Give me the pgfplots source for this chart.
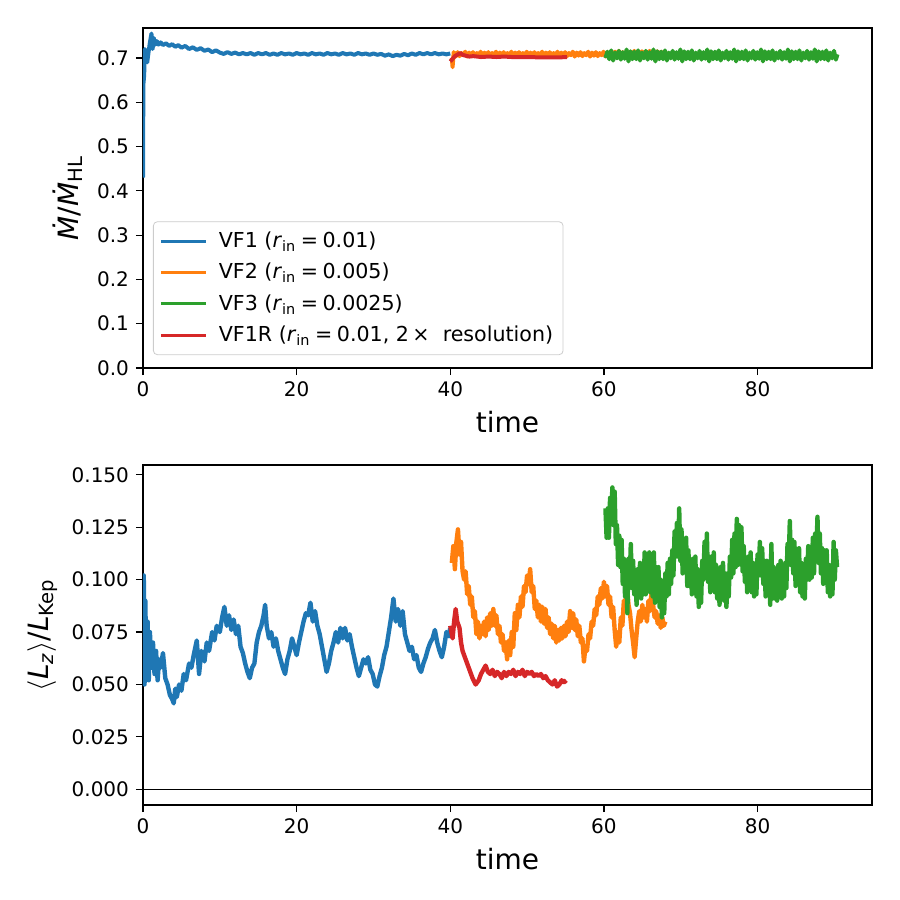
\documentclass[border=0pt]{standalone}
\usepackage{fontspec}
\setmainfont{DejaVu Sans}
\usepackage{pgfplots}
\pgfplotsset{compat=1.18}
\definecolor{c1}{HTML}{1F77B4}
\definecolor{c2}{HTML}{FF7F0E}
\definecolor{c3}{HTML}{2CA02C}
\definecolor{c4}{HTML}{D62728}
\pgfplotsset{
  myaxis/.style={
    scale only axis, width=364.5pt, height=170pt,
    xmin=0, xmax=94.9,
    xtick={0,20,40,60,80},
    axis line style={line width=0.8pt},
    tick style={line width=0.6pt, black},
    tick align=outside, major tick length=3.5pt,
    xtick pos=bottom, ytick pos=left,
    /pgf/number format/assume math mode=true,
    ticklabel style={font=\fontsize{10}{12}\selectfont},
    xlabel={time},
    xlabel style={font=\fontsize{14}{16}\selectfont, at={(axis description cs:0.5,0)}, anchor=base, yshift=-32pt},
    every axis plot/.append style={line width=2pt, line join=round},
    clip=true,
  }
}
\begin{document}
\begin{tikzpicture}
\begin{axis}[myaxis, at={(0,0)}, anchor=south west,
  ymin=0, ymax=0.7675,
  ytick={0,0.1,0.2,0.3,0.4,0.5,0.6,0.7},
  yticklabel style={/pgf/number format/.cd, fixed, fixed zerofill, precision=1},
  ylabel={\textit{Ṁ}/\textit{Ṁ}\textsubscript{HL}},
  ylabel style={font=\fontsize{14}{16}\selectfont, at={(axis description cs:-0.082,0.5)}, anchor=south, rotate=0, inner sep=0pt},
  legend style={at={(0.0137,0.038)}, anchor=south west, draw=black!20, rounded corners=2pt, fill=white, fill opacity=0.8, text opacity=1, font=\fontsize{10.3}{12}\selectfont, inner xsep=3pt, inner ysep=3pt, row sep=2.4pt},
  legend cell align=left,
  legend image code/.code={\draw[#1, line width=1.5pt] (0pt,0pt) -- (22.5pt,0pt); \path[draw=none, fill=none] (0pt,0pt) -- (27pt,0pt);},
]
\addplot[c1] coordinates {(0,0.43) (0.05,0.64) (0.15,0.66) (0.25,0.72) (0.4,0.70) (0.55,0.69) (0.7,0.71) (0.9,0.735) (1.1,0.755) (1.25,0.72) (1.4,0.745) (1.6,0.73) (1.8,0.738) (2.0,0.73) (2.3,0.735) (2.6,0.729) (3,0.733) (3.4,0.727) (3.8,0.731) (4.2,0.725) (4.6,0.729) (5,0.723) (5.5,0.727) (6,0.72) (6.5,0.724) (7,0.718) (7.5,0.722) (8,0.716) (8.5,0.719) (9,0.713) (9.5,0.717)
(10,0.712) (10.5,0.709) (11,0.713) (11.5,0.709) (12,0.712) (12.5,0.708) (13,0.711) (13.5,0.708) (14,0.711) (14.5,0.707) (15,0.711) (15.5,0.708) (16,0.711) (16.5,0.707) (17,0.710) (17.5,0.707) (18,0.711) (18.5,0.708) (19,0.710) (19.5,0.707) (20,0.711) (20.5,0.708) (21,0.710) (21.5,0.707) (22,0.711) (22.5,0.708) (23,0.710) (23.5,0.707) (24,0.711) (24.5,0.708) (25,0.710) (25.5,0.707) (26,0.711) (26.5,0.708) (27,0.710) (27.5,0.707) (28,0.711) (28.5,0.708) (29,0.710) (29.5,0.707) (30,0.710) (30.5,0.707) (31,0.709) (31.5,0.705) (32,0.708) (32.5,0.704) (33,0.707) (33.5,0.705) (34,0.709) (34.5,0.706) (35,0.710) (35.5,0.707) (36,0.711) (36.5,0.708) (37,0.711) (37.5,0.708) (38,0.711) (38.5,0.708) (39,0.710) (39.5,0.708) (40,0.710)};
\addlegendentry{VF1 (\textit{r}\textsubscript{in}\:=\:0.01)}
\addplot[c2] coordinates {(40.2,0.700) (40.3,0.679) (40.45,0.713) (40.7,0.703) (40.95,0.713) (41.2,0.704) (41.45,0.711) (41.7,0.706) (41.95,0.714) (42.2,0.703) (42.45,0.712) (42.7,0.705) (42.95,0.713) (43.2,0.704) (43.45,0.711) (43.7,0.706) (43.95,0.714) (44.2,0.703) (44.45,0.712) (44.7,0.705) (44.95,0.713) (45.2,0.704) (45.45,0.711) (45.7,0.706) (45.95,0.714) (46.2,0.703) (46.45,0.712) (46.7,0.705) (46.95,0.713) (47.2,0.704) (47.45,0.711) (47.7,0.706) (47.95,0.714) (48.2,0.703) (48.45,0.712) (48.7,0.705) (48.95,0.713) (49.2,0.704) (49.45,0.711) (49.7,0.706) (49.95,0.714) (50.2,0.703) (50.45,0.712) (50.7,0.705) (50.95,0.713) (51.2,0.704) (51.45,0.711) (51.7,0.706) (51.95,0.714) (52.2,0.703) (52.45,0.712) (52.7,0.705) (52.95,0.713) (53.2,0.704) (53.45,0.711) (53.7,0.706) (53.95,0.714) (54.2,0.703) (54.45,0.712) (54.7,0.705) (54.95,0.713) (55.2,0.704) (55.45,0.711) (55.7,0.706) (55.95,0.714) (56.2,0.703) (56.45,0.712) (56.7,0.705) (56.95,0.713) (57.2,0.704) (57.45,0.711) (57.7,0.706) (57.95,0.714) (58.2,0.703) (58.45,0.712) (58.7,0.705) (58.95,0.713) (59.2,0.704) (59.45,0.711) (59.7,0.706) (59.95,0.714) (60.2,0.703) (60.45,0.713) (60.7,0.706) (60.95,0.715) (61.2,0.705) (61.45,0.714) (61.7,0.706) (61.95,0.716) (62.2,0.705) (62.45,0.713) (62.7,0.704) (62.95,0.715) (63.2,0.706) (63.45,0.714) (63.7,0.703) (63.95,0.716) (64.2,0.705) (64.45,0.713) (64.7,0.706) (64.95,0.715) (65.2,0.704) (65.45,0.714) (65.7,0.705) (65.95,0.716) (66.2,0.706) (66.45,0.713) (66.7,0.704) (66.95,0.715) (67.2,0.705) (67.45,0.714) (67.7,0.706) (67.95,0.713) (68.2,0.709)};
\addlegendentry{VF2 (\textit{r}\textsubscript{in}\:=\:0.005)}
\addplot[c3] coordinates {(60.2,0.700) (60.45,0.714) (60.7,0.697) (60.95,0.717) (61.2,0.694) (61.45,0.712) (61.7,0.699) (61.95,0.716) (62.2,0.696) (62.45,0.713) (62.7,0.698) (62.95,0.719) (63.2,0.692) (63.45,0.715) (63.7,0.697) (63.95,0.714) (64.2,0.697) (64.45,0.717) (64.7,0.694) (64.95,0.712) (65.2,0.699) (65.45,0.716) (65.7,0.696) (65.95,0.713) (66.2,0.698) (66.45,0.719) (66.7,0.692) (66.95,0.715) (67.2,0.697) (67.45,0.714) (67.7,0.697) (67.95,0.717) (68.2,0.694) (68.45,0.712) (68.7,0.699) (68.95,0.716) (69.2,0.696) (69.45,0.713) (69.7,0.698) (69.95,0.719) (70.2,0.692) (70.45,0.715) (70.7,0.697) (70.95,0.714) (71.2,0.697) (71.45,0.717) (71.7,0.694) (71.95,0.712) (72.2,0.699) (72.45,0.716) (72.7,0.696) (72.95,0.713) (73.2,0.698) (73.45,0.719) (73.7,0.692) (73.95,0.715) (74.2,0.697) (74.45,0.714) (74.7,0.697) (74.95,0.717) (75.2,0.694) (75.45,0.712) (75.7,0.699) (75.95,0.716) (76.2,0.696) (76.45,0.713) (76.7,0.698) (76.95,0.719) (77.2,0.692) (77.45,0.715) (77.7,0.697) (77.95,0.714) (78.2,0.697) (78.45,0.717) (78.7,0.694) (78.95,0.712) (79.2,0.699) (79.45,0.716) (79.7,0.696) (79.95,0.713) (80.2,0.698) (80.45,0.719) (80.7,0.692) (80.95,0.715) (81.2,0.697) (81.45,0.714) (81.7,0.697) (81.95,0.717) (82.2,0.694) (82.45,0.712) (82.7,0.699) (82.95,0.716) (83.2,0.696) (83.45,0.713) (83.7,0.698) (83.95,0.719) (84.2,0.692) (84.45,0.715) (84.7,0.697) (84.95,0.714) (85.2,0.697) (85.45,0.717) (85.7,0.694) (85.95,0.712) (86.2,0.699) (86.45,0.716) (86.7,0.696) (86.95,0.713) (87.2,0.698) (87.45,0.719) (87.7,0.692) (87.95,0.715) (88.2,0.697) (88.45,0.714) (88.7,0.697) (88.95,0.717) (89.2,0.694) (89.45,0.712) (89.7,0.699) (89.95,0.716) (90.2,0.696) (90.4,0.708)};
\addlegendentry{VF3 (\textit{r}\textsubscript{in}\:=\:0.0025)}
\addplot[c4] coordinates {(40.0,0.692) (40.3,0.698) (40.6,0.704) (41,0.708) (41.3,0.711) (41.6,0.707) (42,0.705) (42.5,0.703) (43,0.704) (44,0.702) (45,0.703) (46,0.702) (47,0.703) (48,0.702) (50,0.702) (52,0.701) (54,0.701) (55.2,0.702)};
\addlegendentry{VF1R (\textit{r}\textsubscript{in}\:=\:0.01, 2\,×\ \ resolution)}
\end{axis}

\begin{axis}[myaxis, at={(0,-218.5pt)}, anchor=south west,
  ymin=-0.0075, ymax=0.1547,
  ytick={0,0.025,0.05,0.075,0.1,0.125,0.15},
  yticklabel style={/pgf/number format/.cd, fixed, fixed zerofill, precision=3},
  ylabel={$\langle$\textit{L}\textsubscript{\textit{z}}$\rangle$/\textit{L}\textsubscript{Kep}},
  ylabel style={font=\fontsize{14}{16}\selectfont, at={(axis description cs:-0.117,0.5)}, anchor=south, rotate=0, inner sep=0pt},
  every axis plot/.append style={line width=2.2pt},
]
\addplot[black, line width=0.5pt, forget plot] coordinates {(0,0) (94.9,0)};
\addplot[c1] coordinates {(0,0.06) (0.1,0.102) (0.2,0.05) (0.3,0.09) (0.45,0.055) (0.6,0.08) (0.75,0.052) (0.9,0.075) (1.1,0.058) (1.3,0.07) (1.5,0.055) (1.7,0.066) (1.9,0.052) (2.1,0.062) (2.3,0.058) (2.6,0.065) (2.9,0.053) (3.2,0.05) (3.5,0.045) (3.8,0.043) (4.0,0.041) (4.2,0.048) (4.4,0.044) (4.7,0.05) (5,0.047) (5.3,0.055) (5.6,0.052) (6,0.06) (6.3,0.058) (6.6,0.064) (7.0,0.071) (7.3,0.055) (7.6,0.066) (8,0.061) (8.3,0.07) (8.6,0.066) (9,0.075) (9.3,0.071) (9.6,0.078) (10,0.075) (10.3,0.082) (10.6,0.087) (10.9,0.078) (11.2,0.083) (11.5,0.076) (11.8,0.081) (12.1,0.074) (12.4,0.078) (12.7,0.068) (13,0.065) (13.3,0.06) (13.6,0.056) (13.9,0.053) (14.2,0.058) (14.5,0.06) (14.8,0.07) (15.1,0.075) (15.4,0.078) (15.7,0.083) (15.9,0.088) (16.1,0.078) (16.4,0.072) (16.7,0.075) (17,0.068) (17.3,0.072) (17.6,0.066) (17.9,0.062) (18.2,0.058) (18.5,0.055) (18.8,0.062) (19.1,0.066) (19.4,0.072) (19.7,0.068) (20,0.064) (20.3,0.07) (20.6,0.075) (20.9,0.08) (21.2,0.084) (21.5,0.083) (21.8,0.089) (22.1,0.08) (22.4,0.085) (22.7,0.078) (23,0.074) (23.3,0.068) (23.6,0.062) (23.9,0.056) (24.2,0.06) (24.5,0.066) (24.8,0.07) (25.1,0.075) (25.4,0.07) (25.7,0.077) (26,0.072) (26.3,0.077) (26.6,0.071) (26.9,0.074) (27.2,0.068) (27.5,0.063) (27.8,0.058) (28.1,0.054) (28.4,0.058) (28.7,0.062) (29,0.06) (29.3,0.063) (29.6,0.057) (29.9,0.055) (30.2,0.05) (30.5,0.049) (30.8,0.054) (31.1,0.058) (31.4,0.064) (31.7,0.068) (32,0.075) (32.3,0.082) (32.6,0.091) (32.9,0.08) (33.2,0.086) (33.5,0.078) (33.8,0.085) (34.1,0.074) (34.4,0.07) (34.7,0.066) (35,0.068) (35.3,0.062) (35.6,0.064) (35.9,0.058) (36.2,0.056) (36.5,0.06) (36.8,0.063) (37.1,0.067) (37.4,0.07) (37.7,0.072) (38,0.076) (38.3,0.07) (38.6,0.066) (38.9,0.063) (39.2,0.068) (39.5,0.075) (39.8,0.073) (40,0.077)};
\addplot[c2] coordinates {(40.2,0.108) (40.4,0.116) (40.6,0.105) (40.8,0.118) (41.0,0.124) (41.2,0.112) (41.4,0.118) (41.6,0.104) (41.8,0.1) (42.0,0.104) (42.2,0.093) (42.4,0.097) (42.6,0.088) (42.8,0.092) (43.0,0.082) (43.2,0.085) (43.4,0.074) (43.6,0.08) (43.8,0.072) (44,0.078) (44.2,0.074) (44.4,0.08) (44.6,0.073) (44.8,0.082) (45,0.076) (45.2,0.084) (45.4,0.078) (45.6,0.086) (45.8,0.078) (46,0.083) (46.2,0.074) (46.4,0.078) (46.6,0.07) (46.8,0.074) (47,0.066) (47.2,0.07) (47.4,0.062) (47.6,0.071) (47.8,0.064) (48,0.075) (48.2,0.068) (48.4,0.084) (48.6,0.076) (48.8,0.088) (49,0.082) (49.2,0.092) (49.4,0.087) (49.6,0.097) (49.8,0.094) (50,0.102) (50.2,0.098) (50.4,0.105) (50.6,0.094) (50.8,0.097) (51,0.086) (51.2,0.09) (51.4,0.082) (51.6,0.088) (51.8,0.08) (52,0.087) (52.2,0.079) (52.4,0.086) (52.6,0.077) (52.8,0.082) (53,0.074) (53.2,0.079) (53.4,0.072) (53.6,0.078) (53.8,0.07) (54,0.076) (54.2,0.071) (54.4,0.077) (54.6,0.072) (54.8,0.078) (55,0.073) (55.2,0.08) (55.4,0.075) (55.6,0.085) (55.8,0.077) (56,0.084) (56.2,0.076) (56.4,0.081) (56.6,0.073) (56.8,0.078) (57,0.07) (57.2,0.072) (57.4,0.061) (57.6,0.068) (57.8,0.066) (58,0.074) (58.2,0.072) (58.4,0.08) (58.6,0.078) (58.8,0.086) (59,0.083) (59.2,0.092) (59.4,0.088) (59.6,0.096) (59.8,0.091) (60,0.099) (60.2,0.092) (60.4,0.097) (60.6,0.088) (60.8,0.092) (61,0.082) (61.2,0.087) (61.4,0.076) (61.6,0.068) (61.8,0.075) (62,0.07) (62.2,0.082) (62.4,0.078) (62.6,0.09) (62.8,0.086) (63,0.097) (63.2,0.088) (63.4,0.084) (63.6,0.076) (63.8,0.07) (64,0.063) (64.2,0.072) (64.4,0.08) (64.6,0.085) (64.8,0.08) (65,0.088) (65.2,0.082) (65.4,0.086) (65.6,0.08) (65.8,0.09) (66,0.085) (66.2,0.094) (66.4,0.088) (66.6,0.082) (66.8,0.085) (67,0.079) (67.2,0.083) (67.4,0.077) (67.6,0.082) (67.8,0.078) (68,0.08)};
\addplot[c3] coordinates {(60.2,0.134) (60.35,0.120) (60.5,0.134) (60.65,0.120) (60.8,0.139) (60.95,0.128) (61.1,0.144) (61.25,0.126) (61.4,0.142) (61.55,0.117) (61.7,0.126) (61.85,0.107) (62.0,0.121) (62.15,0.106) (62.3,0.119) (62.45,0.098) (62.6,0.110) (62.75,0.092) (62.9,0.105) (63.05,0.084) (63.2,0.110) (63.35,0.099) (63.5,0.117) (63.65,0.096) (63.8,0.109) (63.95,0.093) (64.1,0.104) (64.25,0.088) (64.4,0.105) (64.55,0.092) (64.7,0.108) (64.85,0.091) (65.0,0.106) (65.15,0.093) (65.3,0.113) (65.45,0.093) (65.6,0.111) (65.75,0.098) (65.9,0.113) (66.05,0.094) (66.2,0.108) (66.35,0.092) (66.5,0.113) (66.65,0.089) (66.8,0.106) (66.95,0.092) (67.1,0.106) (67.25,0.087) (67.4,0.100) (67.55,0.082) (67.7,0.098) (67.85,0.084) (68.0,0.103) (68.15,0.092) (68.3,0.108) (68.45,0.093) (68.6,0.110) (68.75,0.098) (68.9,0.114) (69.05,0.102) (69.2,0.123) (69.35,0.111) (69.5,0.127) (69.65,0.111) (69.8,0.134) (69.95,0.109) (70.1,0.124) (70.25,0.103) (70.4,0.119) (70.55,0.106) (70.7,0.120) (70.85,0.097) (71.0,0.114) (71.15,0.097) (71.3,0.109) (71.45,0.093) (71.6,0.110) (71.75,0.097) (71.9,0.111) (72.05,0.092) (72.2,0.105) (72.35,0.087) (72.5,0.101) (72.65,0.089) (72.8,0.109) (72.95,0.100) (73.1,0.118) (73.25,0.102) (73.4,0.122) (73.55,0.099) (73.7,0.111) (73.85,0.094) (74.0,0.111) (74.15,0.098) (74.3,0.113) (74.45,0.094) (74.6,0.107) (74.75,0.091) (74.9,0.103) (75.05,0.088) (75.2,0.106) (75.35,0.093) (75.5,0.108) (75.65,0.090) (75.8,0.103) (75.95,0.087) (76.1,0.103) (76.25,0.092) (76.4,0.111) (76.55,0.101) (76.7,0.119) (76.85,0.103) (77.0,0.122) (77.15,0.106) (77.3,0.129) (77.45,0.107) (77.6,0.126) (77.75,0.112) (77.9,0.125) (78.05,0.104) (78.2,0.116) (78.35,0.099) (78.5,0.110) (78.65,0.094) (78.8,0.111) (78.95,0.099) (79.1,0.113) (79.25,0.094) (79.4,0.108) (79.55,0.092) (79.7,0.107) (79.85,0.093) (80.0,0.112) (80.15,0.102) (80.3,0.118) (80.45,0.102) (80.6,0.115) (80.75,0.098) (80.9,0.109) (81.05,0.092) (81.2,0.109) (81.35,0.095) (81.5,0.108) (81.65,0.088) (81.8,0.117) (81.95,0.091) (82.1,0.106) (82.25,0.091) (82.4,0.105) (82.55,0.090) (82.7,0.107) (82.85,0.095) (83.0,0.109) (83.15,0.091) (83.3,0.104) (83.45,0.092) (83.6,0.108) (83.75,0.096) (83.9,0.117) (84.05,0.108) (84.2,0.128) (84.35,0.107) (84.5,0.119) (84.65,0.103) (84.8,0.118) (84.95,0.097) (85.1,0.114) (85.25,0.101) (85.4,0.115) (85.55,0.094) (85.7,0.108) (85.85,0.092) (86.0,0.104) (86.15,0.091) (86.3,0.110) (86.45,0.100) (86.6,0.116) (86.75,0.100) (86.9,0.115) (87.05,0.101) (87.2,0.120) (87.35,0.103) (87.5,0.122) (87.65,0.112) (87.8,0.130) (87.95,0.108) (88.1,0.122) (88.25,0.103) (88.4,0.115) (88.55,0.098) (88.7,0.114) (88.85,0.100) (89.0,0.114) (89.15,0.094) (89.3,0.107) (89.45,0.092) (89.6,0.104) (89.75,0.093) (89.9,0.118) (90.05,0.100) (90.2,0.114) (90.35,0.106)};
\addplot[c4] coordinates {(40.0,0.078) (40.3,0.072) (40.5,0.08) (40.7,0.086) (40.9,0.08) (41.2,0.077) (41.4,0.07) (41.6,0.066) (41.9,0.063) (42.2,0.06) (42.6,0.056) (42.9,0.053) (43.3,0.05) (43.7,0.052) (44.0,0.055) (44.3,0.057) (44.6,0.059) (44.9,0.056) (45.2,0.055) (45.5,0.057) (45.8,0.054) (46.1,0.056) (46.4,0.055) (46.7,0.053) (47,0.056) (47.3,0.054) (47.6,0.056) (47.9,0.055) (48.2,0.057) (48.5,0.054) (48.8,0.056) (49.1,0.055) (49.4,0.057) (49.7,0.054) (50,0.056) (50.3,0.055) (50.6,0.056) (50.9,0.054) (51.2,0.055) (51.5,0.054) (51.8,0.055) (52.1,0.053) (52.4,0.054) (52.7,0.052) (53,0.051) (53.3,0.05) (53.6,0.052) (53.9,0.049) (54.2,0.05) (54.5,0.052) (54.8,0.051) (55.1,0.052)};
\end{axis}
\pgfresetboundingbox
\path[use as bounding box] (-71.5pt,-266pt) rectangle (378.5pt,184pt);
\end{tikzpicture}
\end{document}
